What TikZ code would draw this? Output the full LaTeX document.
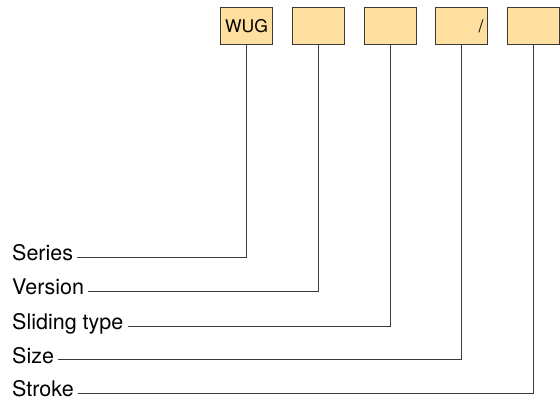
\documentclass[tikz,border=0pt]{standalone}
\usepackage{fontspec}
\setmainfont{TeX Gyre Heros}
\usetikzlibrary{positioning}
\definecolor{boxfill}{HTML}{FFDF9F}
\definecolor{linegray}{HTML}{3A3A3A}
\tikzset{
  codebox/.style={draw=linegray, fill=boxfill, line width=1pt,
    minimum width=52pt, minimum height=37pt, inner sep=3pt,
    font=\fontsize{17.5}{20}\selectfont},
  partlabel/.style={anchor=base west, inner sep=0pt,
    font=\fontsize{21.5}{24}\selectfont},
  conn/.style={draw=linegray, line width=0.9pt}
}
\begin{document}
\begin{tikzpicture}[x=1pt,y=-1pt]
\useasboundingbox (0,0) rectangle (560,398);

% Code boxes
\node[codebox] (b1) at (246.5,26) {WUG};
\node[codebox] (b2) at (318,26) {};
\node[codebox] (b3) at (390,26) {};
\node[codebox, text width=44pt, align=right] (b4) at (461.5,26) {/};
\node[codebox] (b5) at (533.5,26) {};

% Labels
\node[partlabel] (ser) at (12,260.5) {Series};
\node[partlabel] (ver) at (12,295) {Version};
\node[partlabel] (sli) at (12,329.5) {Sliding type};
\node[partlabel] (siz) at (12,363) {Size};
\node[partlabel] (str) at (12,396.5) {Stroke};

% Leader lines
\draw[conn] ([xshift=4pt,yshift=3.5pt]ser.base east) -| (b1.south);
\draw[conn] ([xshift=4pt,yshift=3.5pt]ver.base east) -| (b2.south);
\draw[conn] ([xshift=4pt,yshift=3.5pt]sli.base east) -| (b3.south);
\draw[conn] ([xshift=4pt,yshift=3.5pt]siz.base east) -| (b4.south);
\draw[conn] ([xshift=4pt,yshift=3.5pt]str.base east) -| (b5.south);

\end{tikzpicture}
\end{document}
